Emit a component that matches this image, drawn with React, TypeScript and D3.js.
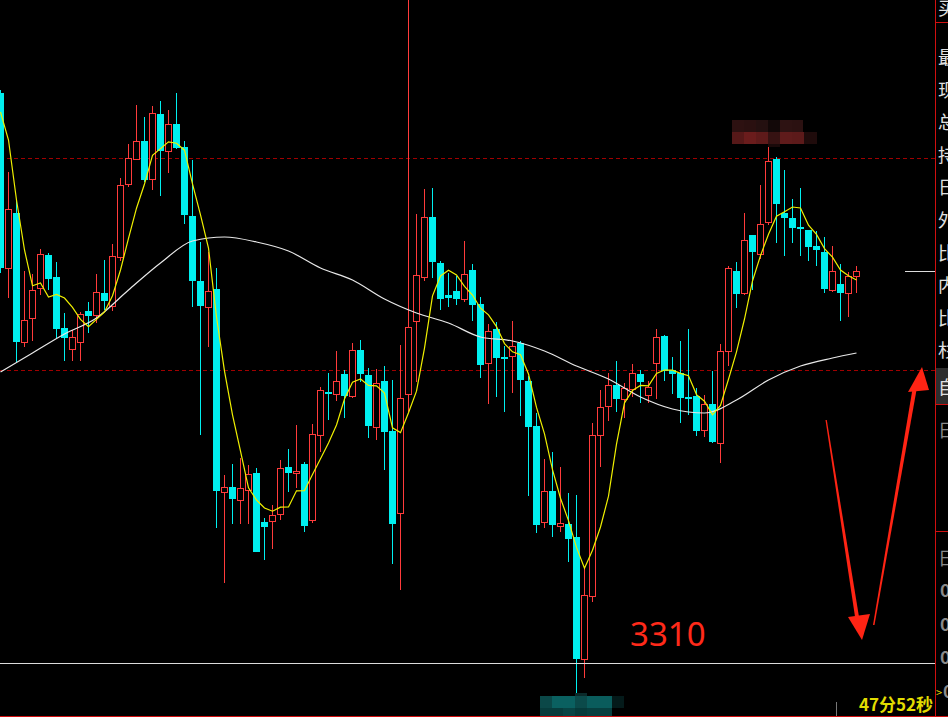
import React from 'react'
import * as d3 from 'd3'

// candle data (price units, 0.2 per pixel)
const opens = [
	3424.0, 3389.0, 3400.0, 3374.2, 3379.0, 3385.0, 3391.6, 3387.2, 3377.0, 3372.8,
	3374.2, 3380.4, 3379.6, 3384.0, 3381.4, 3391.2, 3405.8, 3410.8, 3414.4, 3406.8,
	3419.8, 3412.4, 3417.8, 3413.2, 3399.4, 3386.4, 3381.2, 3384.8, 3344.2, 3345.2,
	3342.6, 3344.6, 3348.0, 3338.2, 3338.4, 3339.8, 3349.2, 3348.0, 3349.8, 3338.6,
	3355.6, 3364.2, 3363.8, 3367.8, 3363.4, 3372.6, 3367.6, 3357.2, 3366.4, 3356.4,
	3340.0, 3363.8, 3378.4, 3387.2, 3399.2, 3390.0, 3383.6, 3384.4, 3382.8, 3388.6,
	3381.8, 3370.0, 3376.8, 3371.2, 3371.4, 3374.0, 3366.4, 3357.4, 3338.2, 3344.4,
	3337.4, 3337.8, 3335.2, 3310.8, 3323.4, 3355.6, 3361.4, 3365.6, 3362.8, 3364.8,
	3367.8, 3363.6, 3370.0, 3375.4, 3368.6, 3368.0, 3363.2, 3363.4, 3356.6, 3361.8,
	3354.0, 3372.4, 3388.4, 3384.0, 3395.6, 3391.8, 3398.2, 3410.8, 3400.0, 3399.0,
	3397.2, 3396.6, 3393.4, 3392.2, 3384.6, 3385.8, 3384.0, 3387.4
]
const highs = [
	3424.6, 3408.2, 3402.4, 3388.4, 3387.8, 3392.8, 3392.0, 3390.2, 3380.0, 3376.6,
	3380.2, 3382.2, 3387.8, 3390.6, 3393.8, 3407.0, 3413.8, 3421.6, 3419.2, 3421.4,
	3422.4, 3420.6, 3424.0, 3414.4, 3410.6, 3394.2, 3392.2, 3389.0, 3347.6, 3349.8,
	3351.0, 3349.6, 3349.0, 3339.0, 3341.6, 3350.6, 3352.8, 3357.6, 3350.2, 3357.8,
	3365.2, 3368.0, 3372.4, 3368.6, 3374.0, 3374.6, 3369.0, 3368.8, 3369.4, 3366.6,
	3373.6, 3445.0, 3399.8, 3404.8, 3405.0, 3390.4, 3388.0, 3387.4, 3394.4, 3389.8,
	3383.2, 3377.8, 3378.2, 3373.4, 3378.4, 3374.4, 3367.4, 3360.0, 3350.8, 3352.2,
	3349.2, 3344.0, 3343.6, 3329.2, 3358.0, 3364.6, 3368.0, 3370.4, 3366.0, 3369.8,
	3368.6, 3366.4, 3376.8, 3375.6, 3371.2, 3374.4, 3376.8, 3365.0, 3363.6, 3368.4,
	3373.8, 3389.4, 3390.2, 3400.0, 3395.6, 3405.6, 3413.2, 3411.2, 3408.6, 3402.8,
	3405.0, 3396.6, 3396.4, 3395.2, 3393.4, 3389.8, 3388.2, 3389.4
]
const lows = [
	3388.0, 3383.0, 3370.2, 3373.2, 3374.4, 3383.6, 3384.6, 3375.0, 3370.4, 3370.4,
	3370.4, 3376.0, 3378.0, 3380.6, 3380.4, 3390.4, 3405.2, 3410.8, 3406.2, 3404.6,
	3403.4, 3408.0, 3412.8, 3397.8, 3381.2, 3355.6, 3373.2, 3337.0, 3326.0, 3337.8,
	3337.8, 3337.8, 3332.2, 3330.6, 3332.8, 3338.6, 3344.2, 3345.0, 3336.2, 3338.0,
	3352.2, 3358.6, 3362.4, 3359.0, 3363.0, 3366.2, 3355.0, 3354.6, 3348.6, 3329.8,
	3324.6, 3360.2, 3366.2, 3386.4, 3387.0, 3380.6, 3381.2, 3381.6, 3382.2, 3378.4,
	3367.0, 3361.8, 3363.2, 3360.2, 3364.0, 3359.4, 3343.4, 3336.0, 3337.0, 3335.2,
	3336.2, 3330.2, 3304.0, 3307.0, 3322.2, 3349.2, 3358.4, 3360.2, 3359.0, 3363.2,
	3362.0, 3362.0, 3362.8, 3366.4, 3363.8, 3358.0, 3359.6, 3355.4, 3355.2, 3354.0,
	3350.0, 3369.4, 3381.0, 3383.6, 3384.6, 3390.8, 3397.6, 3394.0, 3391.4, 3394.0,
	3391.4, 3390.4, 3389.4, 3384.0, 3384.2, 3378.4, 3379.2, 3384.0
]
const closes = [
	3389.0, 3400.8, 3374.2, 3378.6, 3384.6, 3391.8, 3386.8, 3376.8, 3375.0, 3375.2,
	3379.8, 3379.4, 3384.2, 3382.4, 3391.4, 3405.6, 3411.0, 3414.4, 3406.6, 3420.0,
	3412.4, 3417.8, 3413.0, 3399.6, 3386.4, 3381.4, 3384.4, 3344.4, 3345.2, 3342.8,
	3345.0, 3347.8, 3332.2, 3337.2, 3339.6, 3349.0, 3348.0, 3348.4, 3337.4, 3355.8,
	3364.6, 3363.8, 3366.4, 3363.4, 3372.6, 3367.8, 3357.4, 3366.0, 3356.2, 3337.8,
	3363.0, 3377.2, 3387.6, 3399.2, 3390.2, 3382.8, 3383.0, 3382.8, 3387.8, 3381.6,
	3369.6, 3376.4, 3371.0, 3370.8, 3373.4, 3366.6, 3357.2, 3337.6, 3344.4, 3337.6,
	3338.0, 3334.8, 3310.8, 3323.6, 3355.6, 3361.2, 3365.6, 3362.8, 3365.0, 3368.0,
	3366.2, 3365.2, 3375.2, 3368.4, 3367.8, 3363.0, 3362.8, 3356.4, 3361.8, 3354.2,
	3372.4, 3389.0, 3383.8, 3394.6, 3392.2, 3397.8, 3410.4, 3401.8, 3399.0, 3397.0,
	3396.8, 3393.2, 3392.6, 3384.8, 3388.4, 3384.0, 3387.4, 3388.4
]
// closes just before the visible window (for the 5-bar average)
const priorCloses = [3428.8, 3434.2, 3428.6, 3420.4]

// long moving average
const longMaIdx = [0, 4, 8, 12, 16, 20, 24, 28, 32, 36, 40, 44, 48, 52, 56, 60, 64, 68, 72, 76, 80, 84, 88, 92, 96, 100, 104, 107]
const longMaVals = [
	3368.2, 3372.0, 3375.8, 3379.0, 3384.6, 3390.0, 3394.4, 3395.2, 3394.2, 3392.4,
	3389.0, 3386.6, 3382.8, 3380.0, 3378.0, 3375.2, 3374.4, 3372.4, 3369.4, 3366.8,
	3363.2, 3360.8, 3360.0, 3362.6, 3366.6, 3369.4, 3371.0, 3372.0
]

const levelLines = [3411.0, 3368.6]
const keyPrice = 3310
const keyLabel = '3310'
const timerText = '47分52秒'
const panelTop = ['最', '现', '总', '持', '日', '外', '比', '内', '比', '杉']
const panelLow = ['0', '0', '0', '0']

const W = 948
const H = 717
const plotRight = 935

const UP = '#ff3b3b'
const DOWN = '#00f0f0'

const App = () => {
	const x = d3.scaleLinear().domain([0, 107]).range([0.5, 856.5])
	const y = d3.scaleLinear().domain([keyPrice, 3442.6]).range([663, 0])

	const all = [...priorCloses, ...closes]
	const ma5 = closes.map((_, i) => d3.mean(all.slice(i, i + 5)) as number)

	const ma5Line = d3
		.line<number>()
		.x((_, i) => x(i))
		.y((v) => y(v))(ma5)

	const longLine = d3
		.line<number>()
		.x((_, i) => x(longMaIdx[i]))
		.y((v) => y(v))
		.curve(d3.curveMonotoneX)(longMaVals)

	const lastY = Math.round(y(closes[closes.length - 1])) + 0.5
	const keyY = Math.round(y(keyPrice)) + 0.5

	return (
		<div style={{ position: 'absolute', left: 0, top: 0 }}>
			<svg width={W} height={H} style={{ display: 'block', background: '#000' }}>
				<rect width={W} height={H} fill="#000" />

				{/* dashed levels */}
				{levelLines.map((p) => (
					<line
						key={p}
						x1={0}
						x2={plotRight}
						y1={Math.round(y(p)) + 0.5}
						y2={Math.round(y(p)) + 0.5}
						stroke="#a00000"
						strokeDasharray="4 3"
						shapeRendering="crispEdges"
					/>
				))}

				{/* candles */}
				<g shapeRendering="crispEdges">
					{closes.map((c, i) => {
						const o = opens[i]
						const cx = x(i)
						const up = c >= o
						const top = Math.round(y(Math.max(o, c)))
						const bot = Math.round(y(Math.min(o, c)))
						const col = up ? UP : DOWN
						return (
							<g key={i}>
								<line
									x1={cx}
									x2={cx}
									y1={y(highs[i])}
									y2={y(lows[i])}
									stroke={col}
								/>
								{up ? (
									<rect
										x={cx - 3}
										y={top + 0.5}
										width={6}
										height={Math.max(bot - top, 1)}
										fill="#000"
										stroke={col}
									/>
								) : (
									<rect
										x={cx - 3.5}
										y={top}
										width={7}
										height={Math.max(bot - top, 2)}
										fill={col}
									/>
								)}
							</g>
						)
					})}
				</g>

				{/* averages */}
				<path d={longLine || ''} fill="none" stroke="#e8e8e8" strokeWidth={1.2} />
				<path d={ma5Line || ''} fill="none" stroke="#f0f000" strokeWidth={1.2} />

				{/* key level */}
				<line x1={0} x2={plotRight} y1={keyY} y2={keyY} stroke="#dcdcdc" shapeRendering="crispEdges" />
				<line x1={905} x2={plotRight} y1={lastY} y2={lastY} stroke="#dcdcdc" shapeRendering="crispEdges" />
				<line x1={836.5} x2={836.5} y1={702} y2={H} stroke="#777" shapeRendering="crispEdges" />

				{/* mosaic boxes */}
				<g shapeRendering="crispEdges">
					<rect x={732} y={120} width={12} height={12} fill="#2d1111" />
					<rect x={744} y={120} width={12} height={12} fill="#2a1010" />
					<rect x={756} y={120} width={12} height={12} fill="#241010" />
					<rect x={768} y={120} width={12} height={12} fill="#120808" />
					<rect x={780} y={120} width={12} height={12} fill="#2d1212" />
					<rect x={792} y={120} width={11} height={12} fill="#2b1111" />
					<rect x={732} y={132} width={12} height={12} fill="#561818" />
					<rect x={744} y={132} width={12} height={12} fill="#6a1c1c" />
					<rect x={756} y={132} width={12} height={12} fill="#5e1a1a" />
					<rect x={768} y={132} width={12} height={12} fill="#361212" />
					<rect x={780} y={132} width={12} height={12} fill="#5f1b1b" />
					<rect x={792} y={132} width={12} height={12} fill="#5c1a1a" />
					<rect x={804} y={132} width={13} height={12} fill="#1f0b0b" />
					<rect x={768} y={144} width={12} height={3} fill="#1a0a0a" />

					<rect x={575} y={693} width={12} height={3} fill="#0a2a2a" />
					<rect x={540} y={696} width={12} height={12} fill="#0b4848" />
					<rect x={552} y={696} width={23} height={12} fill="#0a6060" />
					<rect x={575} y={696} width={12} height={12} fill="#0b4a4a" />
					<rect x={587} y={696} width={25} height={12} fill="#0a5c5c" />
					<rect x={612} y={696} width={12} height={12} fill="#041a1a" />
					<rect x={540} y={708} width={23} height={8} fill="#073c3c" />
					<rect x={563} y={708} width={12} height={8} fill="#084444" />
					<rect x={575} y={708} width={12} height={8} fill="#063a3a" />
					<rect x={587} y={708} width={25} height={8} fill="#073f3f" />
				</g>

				{/* hand drawn arrows */}
				<g fill="#ff2414">
					<polygon points="825.5,420 826.8,420 859.5,620 855.5,620" />
					<polygon points="848,617 870,614 862,640" />
					<polygon points="873,625 874.5,625 916.5,390 912.5,389" />
					<polygon points="908,392 929,390 922,367" />
				</g>

				<text
					x={630}
					y={646}
					fill="#ff2a1a"
					fontSize={33}
					fontFamily="'Noto Sans', 'DejaVu Sans', sans-serif"
				>
					{keyLabel}
				</text>

				<text
					x={933}
					y={711}
					textAnchor="end"
					fill="#e2dc00"
					fontSize={17}
					fontWeight="bold"
					fontFamily="'Noto Sans CJK SC', sans-serif"
				>
					{timerText}
				</text>

				{/* right panel (cut off) */}
				<g fontFamily="'Noto Sans CJK SC', sans-serif" fontSize={18}>
					<rect x={936} y={368} width={12} height={36} fill="#2e2e2e" />
					<text x={938} y={15} fill="#e0e0e0">买</text>
					{panelTop.map((t, i) => (
						<text key={i} x={938} y={64 + i * 32.6} fill="#e0e0e0">
							{t}
						</text>
					))}
					<text x={938} y={394} fill="#e0e0e0">自</text>
					<text x={938} y={437} fill="#8a8a8a">日</text>
					<text x={938} y={565} fill="#8a8a8a">日</text>
					{panelLow.map((t, i) => (
						<text key={i} x={i === 3 ? 943 : 940} y={597 + i * 33.5} fill="#8a8a8a" fontWeight="bold">
							{t}
						</text>
					))}
					<text x={936} y={697} fill="#e2dc00" fontSize={11}>{'>'}</text>
				</g>

				<g stroke="#d01010" shapeRendering="crispEdges">
					<line x1={935.5} x2={935.5} y1={0} y2={H} />
					<line x1={936} x2={W} y1={22.5} y2={22.5} />
					<line x1={936} x2={W} y1={404.5} y2={404.5} />
					<line x1={936} x2={W} y1={531.5} y2={531.5} />
					<line x1={0} x2={W} y1={716.5} y2={716.5} />
				</g>
			</svg>
		</div>
	)
}

export default App
